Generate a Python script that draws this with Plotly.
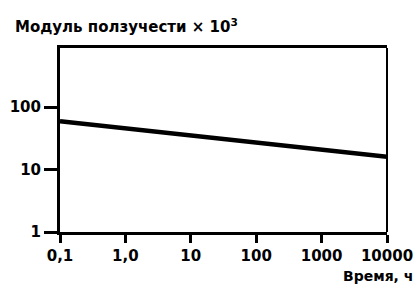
import plotly.graph_objects as go

# Data (log-log straight line)
time_h = [0.1, 10000]
creep_modulus = [59, 16]

x_tickvals = [0.1, 1, 10, 100, 1000, 10000]
x_ticktext = ["0,1", "1,0", "10", "100", "1000", "10000"]
y_tickvals = [1, 10, 100]
y_ticktext = ["1", "10", "100"]

FAM = "DejaVu Sans, Liberation Sans, Arial, sans-serif"
TICKFONT = dict(family=FAM, size=15, color="black", weight="bold")

fig = go.Figure()
fig.add_trace(go.Scatter(
    x=time_h, y=creep_modulus, mode="lines",
    line=dict(color="black", width=4.5),
    showlegend=False, hoverinfo="skip"))

fig.update_layout(
    width=417, height=287,
    margin=dict(l=60, r=30, t=48, b=55, autoexpand=False),
    paper_bgcolor="white", plot_bgcolor="white",
    font=dict(family=FAM, size=13, color="black"),
    xaxis=dict(
        type="log", range=[-1, 4], tickvals=x_tickvals, ticktext=x_ticktext,
        showgrid=False, zeroline=False, automargin=False,
        showline=True, linecolor="black", linewidth=3, mirror=True,
        ticks="outside", ticklen=8, tickwidth=2.5, tickcolor="black",
        tickfont=TICKFONT,
    ),
    yaxis=dict(
        type="log", range=[0, 2.944], tickvals=y_tickvals, ticktext=y_ticktext,
        showgrid=False, zeroline=False, automargin=False,
        showline=True, linecolor="black", linewidth=3,
        ticks="outside", ticklen=13, tickwidth=2.5, tickcolor="black",
        tickfont=TICKFONT,
    ),
    shapes=[dict(type="line", xref="paper", yref="paper", x0=1, x1=1, y0=0, y1=1,
                 line=dict(color="black", width=2))],
    annotations=[
        dict(text="Модуль ползучести × 10<sup>3</sup>", xref="paper", yref="paper",
             x=-0.144, y=1.12, xanchor="left", yanchor="middle", showarrow=False,
             font=dict(family=FAM, size=15, color="black", weight="bold")),
        dict(text="Время, ч", xref="paper", yref="paper",
             x=1.086, y=-0.24, xanchor="right", yanchor="middle", showarrow=False,
             font=dict(family=FAM, size=14, color="black", weight="bold")),
    ],
)

fig.write_html("out.html", config={"displayModeBar": False},
               post_script="document.body.style.margin='0';")
